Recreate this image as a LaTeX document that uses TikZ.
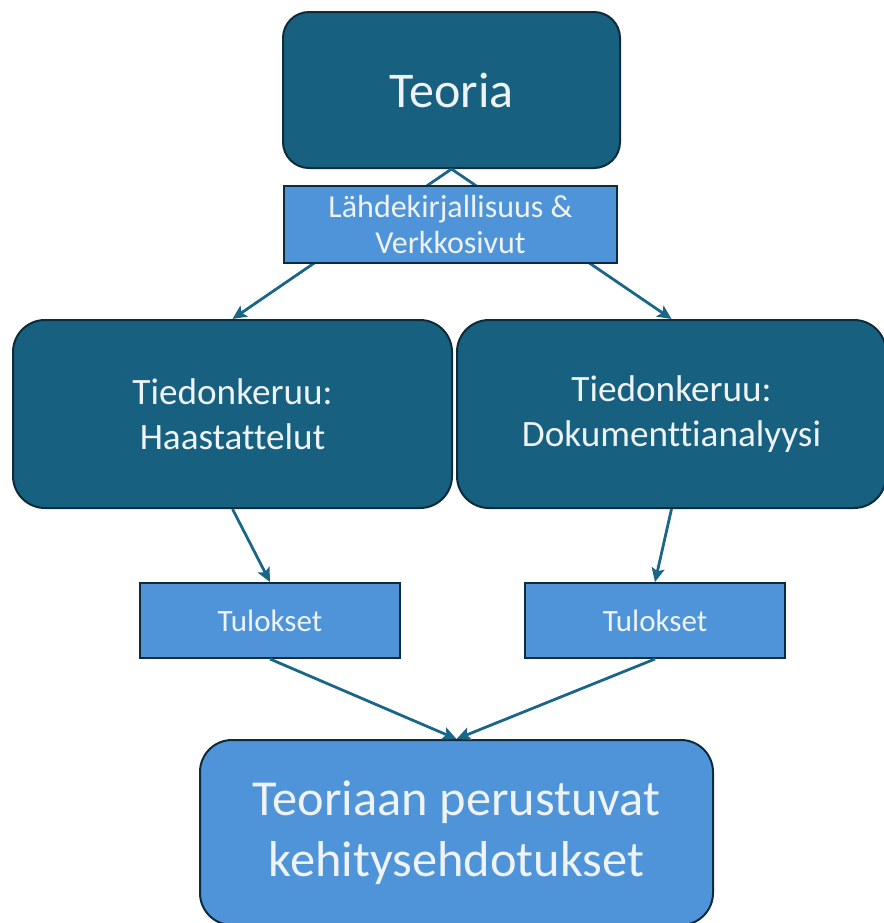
\documentclass[tikz,border=0pt]{standalone}
\usepackage{fontspec}
\setmainfont[Ligatures=NoCommon]{Carlito}
\usetikzlibrary{arrows.meta}

\definecolor{BoxDarkFill}{HTML}{17607F}
\definecolor{BoxLightFill}{HTML}{4F94D8}
\definecolor{BoxLine}{HTML}{0E2B3C}
\definecolor{EdgeColor}{HTML}{1A6689}
\definecolor{TextColor}{HTML}{EEF3F7}

\tikzset{
  BoxDark/.style  = {draw=BoxLine, line width=1pt, fill=BoxDarkFill,
                     text=TextColor, align=center, rounded corners=16pt},
  BoxLight/.style = {draw=BoxLine, line width=1pt, fill=BoxLightFill,
                     text=TextColor, align=center},
  EdgeStyle/.style = {draw=EdgeColor, line width=1.4pt,
                      -{Stealth[length=7pt, width=6.5pt, inset=1.5pt]}}
}

\begin{document}
\begin{tikzpicture}[x=0.5pt, y=-0.5pt]
  \useasboundingbox (0,0) rectangle (884,923);

% level 0
\node[BoxDark, minimum width=168.5pt, minimum height=78pt, rounded corners=13pt,
      font=\fontsize{25}{30}\selectfont] (teoria) at (451.5,90) {Teoria};

% level 1
\node[BoxDark, minimum width=219.5pt, minimum height=94pt,
      font=\fontsize{18.6}{22.5}\selectfont] (haast) at (232.5,414)
      {Tiedonkeruu:\\Haastattelut};
\node[BoxDark, minimum width=214.5pt, minimum height=94pt,
      font=\fontsize{18.6}{22.5}\selectfont] (dok) at (671.5,414)
      {Tiedonkeruu:\\Dokumenttianalyysi};

\path[EdgeStyle] (teoria.south) -- (haast.north);
\path[EdgeStyle] (teoria.south) -- (dok.north);

\node[BoxLight, minimum width=166.5pt, minimum height=38.5pt,
      font=\fontsize{16}{18}\selectfont] (lahde) at (450.5,224.5)
      {Lähdekirjallisuus \&\\Verkkosivut};

% level 2
\node[BoxLight, minimum width=130pt, minimum height=37.5pt,
      font=\fontsize{15.5}{18}\selectfont] (tulosA) at (270,620.5) {Tulokset};
\node[BoxLight, minimum width=130pt, minimum height=37.5pt,
      font=\fontsize{15.5}{18}\selectfont] (tulosB) at (655,620.5) {Tulokset};

% level 3
\node[BoxDark, fill=BoxLightFill, minimum width=256.5pt, minimum height=92.5pt,
      font=\fontsize{25.2}{30.5}\selectfont] (kehitys) at (456.5,832.5)
      {Teoriaan perustuvat\\kehitysehdotukset};

\path[EdgeStyle] (haast.south) -- (tulosA.north);
\path[EdgeStyle] (dok.south) -- (tulosB.north);
\path[EdgeStyle] (tulosA.south) -- (kehitys.north);
\path[EdgeStyle] (tulosB.south) -- (kehitys.north);

\end{tikzpicture}
\end{document}
